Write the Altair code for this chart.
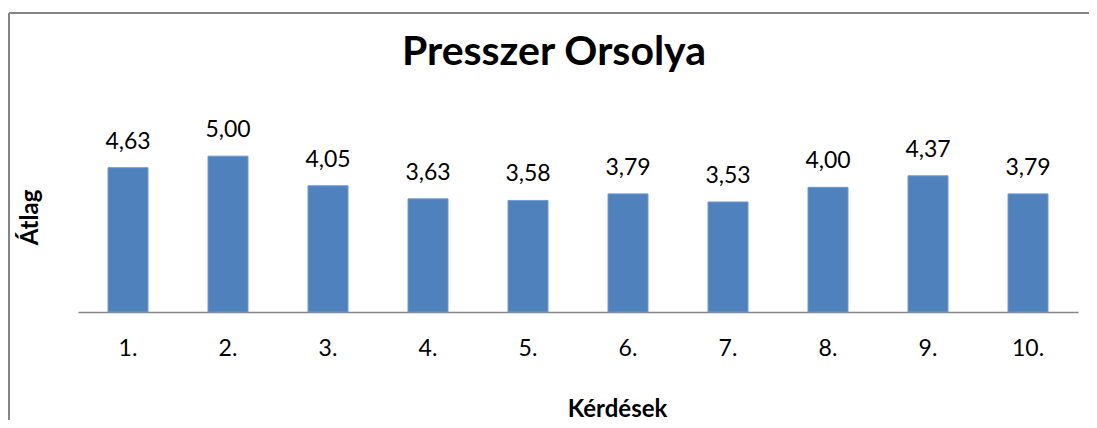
import altair as alt
import pandas as pd

questions = ["1.", "2.", "3.", "4.", "5.", "6.", "7.", "8.", "9.", "10."]
averages = [4.63, 5.00, 4.05, 3.63, 3.58, 3.79, 3.53, 4.00, 4.37, 3.79]
labels = ["4,63", "5,00", "4,05", "3,63", "3,58", "3,79", "3,53", "4,00", "4,37", "3,79"]

df = pd.DataFrame({"q": questions, "v": averages, "lab": labels})

FONT = "Lato"
GRAY = "#868686"

x = alt.X("q:N", sort=questions,
          scale=alt.Scale(paddingInner=0.6, paddingOuter=0.3),
          axis=alt.Axis(title="Kérdések", labelAngle=0, ticks=False,
                        domainColor=GRAY, domainWidth=1.5,
                        labelFont=FONT, labelFontSize=23, labelColor="#000000",
                        labelBaseline="alphabetic", labelPadding=43,
                        titleFont=FONT, titleFontSize=24, titleFontWeight="bold",
                        titleColor="#000000", titleX=539, titleY=104,
                        titleBaseline="alphabetic", titleAlign="center"))
y = alt.Y("v:Q", scale=alt.Scale(domain=[0, 6]),
          axis=alt.Axis(title="Átlag", labels=False, ticks=False, domain=False,
                        grid=False, titleFont=FONT, titleFontSize=24,
                        titleFontWeight="bold", titleColor="#000000",
                        titleX=-48, titleY=92, titleAngle=-90,
                        titleBaseline="middle", titleAlign="center"))

base = alt.Chart(df)
bars = base.mark_bar(color="#4F81BD", stroke="#6E9AD0", strokeWidth=1).encode(x=x, y=y)
text = base.mark_text(font=FONT, fontSize=23, color="#000000",
                      baseline="alphabetic", dy=-19).encode(x=x, y=y, text="lab:N")

border_top = alt.Chart(df.head(1)).mark_rule(color=GRAY, strokeWidth=2).encode(
    x=alt.value(-69), x2=alt.value(1040), y=alt.value(-112))
border_left = alt.Chart(df.head(1)).mark_rule(color=GRAY, strokeWidth=2).encode(
    x=alt.value(-69), y=alt.value(-112), y2=alt.value(320))

chart = alt.layer(border_top, border_left, bars, text).properties(
    width=1000, height=187,
    title=alt.TitleParams("Presszer Orsolya", font=FONT, fontSize=41,
                          fontWeight="bold", color="#000000", anchor="middle",
                          frame="group", dx=-24, dy=94, offset=0,
                          baseline="alphabetic"),
    autosize=alt.AutoSizeParams(type="none"),
    padding={"left": 70, "top": 117, "right": 11, "bottom": 108},
    background="#ffffff",
).configure_view(strokeWidth=0, stroke="transparent")

chart.save("out.html", embed_options={"renderer": "svg", "actions": False})
